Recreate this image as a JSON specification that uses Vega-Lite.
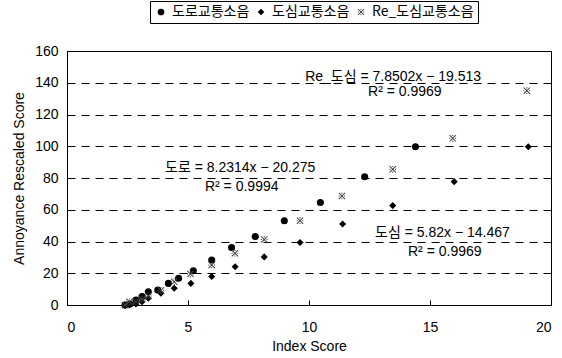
{
  "$schema": "https://vega.github.io/schema/vega-lite/v6.json",
  "width": 484,
  "height": 254,
  "autosize": {"type": "none"},
  "padding": {"left": 67, "top": 51, "right": 11, "bottom": 53},
  "background": "white",
  "config": {
    "view": {"stroke": "black", "strokeWidth": 1},
    "font": "Liberation Sans",
    "axis": {
      "domainColor": "black", "tickColor": "black", "labelColor": "black", "titleColor": "black",
      "labelFont": "Liberation Sans", "titleFont": "Liberation Sans",
      "labelFontSize": 14, "titleFontSize": 14, "titleFontWeight": "normal"
    }
  },
  "datasets": {
    "pts": [
      {"series": "도로교통소음", "x": 2.4, "y": 0},
      {"series": "도로교통소음", "x": 2.6, "y": 0.6},
      {"series": "도로교통소음", "x": 2.85, "y": 3.1},
      {"series": "도로교통소음", "x": 3.1, "y": 5.3},
      {"series": "도로교통소음", "x": 3.36, "y": 8.4},
      {"series": "도로교통소음", "x": 3.75, "y": 9.4},
      {"series": "도로교통소음", "x": 4.19, "y": 13.6},
      {"series": "도로교통소음", "x": 4.61, "y": 16.9},
      {"series": "도로교통소음", "x": 5.22, "y": 21.6},
      {"series": "도로교통소음", "x": 5.98, "y": 28.3},
      {"series": "도로교통소음", "x": 6.8, "y": 36.2},
      {"series": "도로교통소음", "x": 7.78, "y": 43.1},
      {"series": "도로교통소음", "x": 8.98, "y": 53.1},
      {"series": "도로교통소음", "x": 10.47, "y": 64.6},
      {"series": "도로교통소음", "x": 12.3, "y": 80.8},
      {"series": "도로교통소음", "x": 14.4, "y": 99.7},
      {"series": "도심교통소음", "x": 2.4, "y": -0.5},
      {"series": "도심교통소음", "x": 2.58, "y": 0},
      {"series": "도심교통소음", "x": 2.85, "y": 0.6},
      {"series": "도심교통소음", "x": 3.1, "y": 2.1},
      {"series": "도심교통소음", "x": 3.36, "y": 4.3},
      {"series": "도심교통소음", "x": 3.88, "y": 7.4},
      {"series": "도심교통소음", "x": 4.43, "y": 10.5},
      {"series": "도심교통소음", "x": 5.12, "y": 13.6},
      {"series": "도심교통소음", "x": 5.98, "y": 17.9},
      {"series": "도심교통소음", "x": 6.95, "y": 24.1},
      {"series": "도심교통소음", "x": 8.15, "y": 30.3},
      {"series": "도심교통소음", "x": 9.63, "y": 39.4},
      {"series": "도심교통소음", "x": 11.39, "y": 51},
      {"series": "도심교통소음", "x": 13.46, "y": 62.6},
      {"series": "도심교통소음", "x": 16.0, "y": 77.7},
      {"series": "도심교통소음", "x": 19.06, "y": 99.7},
      {"series": "Re_도심교통소음", "x": 2.4, "y": 0},
      {"series": "Re_도심교통소음", "x": 2.58, "y": 2},
      {"series": "Re_도심교통소음", "x": 2.85, "y": 2.1},
      {"series": "Re_도심교통소음", "x": 3.1, "y": 3.6},
      {"series": "Re_도심교통소음", "x": 3.36, "y": 5.7},
      {"series": "Re_도심교통소음", "x": 3.88, "y": 9.2},
      {"series": "Re_도심교통소음", "x": 4.43, "y": 14.6},
      {"series": "Re_도심교통소음", "x": 5.1, "y": 19.5},
      {"series": "Re_도심교통소음", "x": 5.98, "y": 25.2},
      {"series": "Re_도심교통소음", "x": 6.94, "y": 32.6},
      {"series": "Re_도심교통소음", "x": 8.15, "y": 41.3},
      {"series": "Re_도심교통소음", "x": 9.63, "y": 53.1},
      {"series": "Re_도심교통소음", "x": 11.36, "y": 68.7},
      {"series": "Re_도심교통소음", "x": 13.46, "y": 85.5},
      {"series": "Re_도심교통소음", "x": 15.94, "y": 105},
      {"series": "Re_도심교통소음", "x": 19.0, "y": 135}
    ],
    "notes": [
      {"label": "Re_도심 = 7.8502x − 19.513", "x": 9.84, "y": 143.7},
      {"label": "R² = 0.9969", "x": 12.44, "y": 134.2},
      {"label": "도로 = 8.2314x − 20.275", "x": 4.05, "y": 86.3},
      {"label": "R² = 0.9994", "x": 5.7, "y": 74.3},
      {"label": "도심 = 5.82x − 14.467", "x": 12.73, "y": 45.4},
      {"label": "R² = 0.9969", "x": 14.09, "y": 33.4}
    ]
  },
  "encoding": {
    "x": {
      "field": "x", "type": "quantitative", "title": "Index Score",
      "scale": {"domain": [0, 20], "nice": false},
      "axis": {"values": [0, 5, 10, 15, 20], "grid": false, "tickSize": -5, "labelPadding": 20, "titlePadding": 5, "labelOverlap": false}
    },
    "y": {
      "field": "y", "type": "quantitative", "title": "Annoyance Rescaled Score",
      "scale": {"domain": [0, 160], "nice": false},
      "axis": {"values": [0, 20, 40, 60, 80, 100, 120, 140, 160], "grid": true, "gridColor": "black", "gridDash": [8, 6], "gridWidth": 1, "tickSize": -5, "labelPadding": 14, "titlePadding": 8, "labelOverlap": false}
    }
  },
  "layer": [
    {
      "data": {"name": "pts"},
      "mark": {"type": "point", "filled": true, "opacity": 1, "size": 50},
      "encoding": {
        "shape": {
          "field": "series", "type": "nominal",
          "scale": {
            "domain": ["도로교통소음", "도심교통소음", "Re_도심교통소음"],
            "range": ["circle", "diamond", "M-0.8,-1L0,-0.2L0.8,-1L1,-0.8L0.2,0L1,0.8L0.8,1L0,0.2L-0.8,1L-1,0.8L-0.2,0L-1,-0.8Z M-0.15,-0.95h0.3v0.3h-0.3Z M-0.15,0.65h0.3v0.3h-0.3Z M-0.95,-0.15h0.3v0.3h-0.3Z M0.65,-0.15h0.3v0.3h-0.3Z"]
          },
          "legend": {
            "title": null, "orient": "none", "direction": "horizontal",
            "legendX": 83, "legendY": -50,
            "strokeColor": "black", "padding": 4,
            "labelFont": "Noto Sans CJK KR", "labelFontSize": 14, "labelColor": "black",
            "symbolSize": 45, "columnPadding": 4, "labelOffset": 4
          }
        },
        "color": {
          "field": "series", "type": "nominal",
          "scale": {
            "domain": ["도로교통소음", "도심교통소음", "Re_도심교통소음"],
            "range": ["black", "black", "#444444"]
          },
          "legend": {
            "title": null, "orient": "none", "direction": "horizontal",
            "legendX": 83, "legendY": -50,
            "strokeColor": "black", "padding": 4,
            "labelFont": "Noto Sans CJK KR", "labelFontSize": 14, "labelColor": "black",
            "symbolSize": 45, "columnPadding": 4, "labelOffset": 4
          }
        }
      }
    },
    {
      "data": {"name": "notes"},
      "mark": {"type": "text", "align": "left", "baseline": "middle", "fontSize": 14, "font": "Liberation Sans, Noto Sans CJK KR", "color": "black"},
      "encoding": {
        "text": {"field": "label"}
      }
    }
  ]
}
